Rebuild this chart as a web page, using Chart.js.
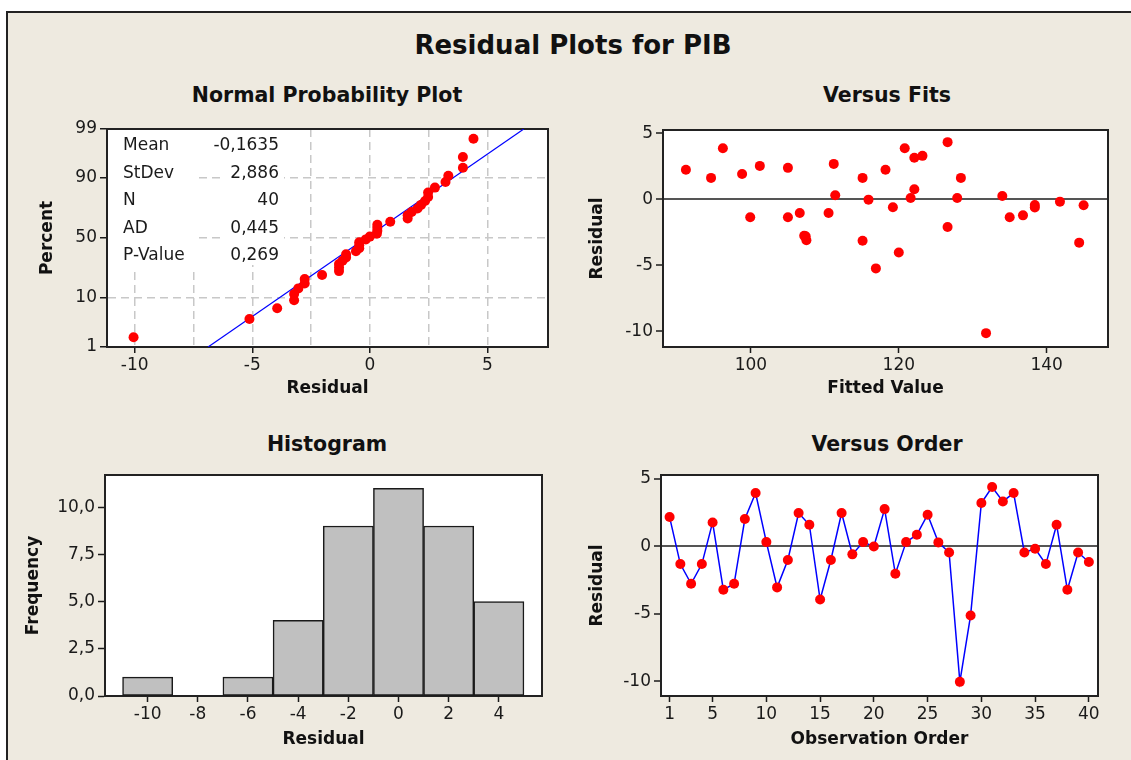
<!DOCTYPE html>
<html>
<head>
<meta charset="utf-8">
<script src="https://cdn.jsdelivr.net/npm/chart.js@4.4.1/dist/chart.umd.min.js"></script>
<style>
  body { margin:0; background:#fff; width:1131px; height:760px; overflow:hidden; position:relative;
         font-family:"DejaVu Sans", sans-serif; }
  #frame { position:absolute; left:6px; top:11px; width:1140px; height:760px; background:#eeeae0;
           border-left:2px solid #222; border-top:2px solid #222; }
  .ttl { position:absolute; transform:translate(-50%,-50%); font-weight:bold; color:#111; white-space:nowrap; }
  .main { font-size:26px; }
  .sub { font-size:20.5px; }
  canvas { position:absolute; }
</style>
</head>
<body>
<div id="frame"></div>
<div class="ttl main" style="left:573px;top:45px">Residual Plots for PIB</div>
<div class="ttl sub" style="left:327px;top:95px">Normal Probability Plot</div>
<div class="ttl sub" style="left:887px;top:95px">Versus Fits</div>
<div class="ttl sub" style="left:327px;top:444px">Histogram</div>
<div class="ttl sub" style="left:887px;top:444px">Versus Order</div>
<canvas id="npp" width="550" height="300" style="left:20px;top:110px"></canvas>
<canvas id="fits" width="550" height="300" style="left:575px;top:110px"></canvas>
<canvas id="hist" width="550" height="300" style="left:20px;top:455px"></canvas>
<canvas id="order" width="550" height="300" style="left:575px;top:455px"></canvas>
<script>
// residuals in observation order
const orderNo = [1,2,3,4,5,6,7,8,9,10,11,12,13,14,15,16,17,18,19,20,
                 21,22,23,24,25,26,27,28,29,30,31,32,33,34,35,36,37,38,39,40];
const residOrder = [2.18,-1.31,-2.77,-1.31,1.78,-3.22,-2.77,2.03,3.96,0.32,
                    -3.04,-1.01,2.48,1.61,-3.94,-1.01,2.48,-0.59,0.32,0.0,
                    2.77,-2.03,0.32,0.87,2.35,0.30,-0.45,-10.05,-5.12,3.22,
                    4.41,3.34,3.96,-0.45,-0.17,-1.31,1.61,-3.22,-0.45,-1.16];

// normal probability plot: sorted residuals and plotting percent
const nppResid = [-10.05,-5.12,-3.94,-3.22,-3.22,-3.04,-2.77,-2.77,-2.03,-1.31,
                  -1.31,-1.31,-1.16,-1.01,-1.01,-0.59,-0.45,-0.45,-0.45,-0.17,
                  0.0,0.30,0.32,0.32,0.32,0.87,1.61,1.61,1.78,2.03,
                  2.18,2.35,2.48,2.48,2.77,3.22,3.34,3.96,3.96,4.41];
const nppPct = [1.7,4.2,6.7,9.2,11.6,14.1,16.6,19.1,21.5,24.0,
                26.5,29.0,31.4,33.9,36.4,38.9,41.3,43.8,46.3,48.8,
                51.2,53.7,56.2,58.7,61.1,63.6,66.1,68.6,71.0,73.5,
                76.0,78.5,80.9,83.4,85.9,88.4,90.8,93.3,95.8,98.3];
const fitLineX = [-6.88, 6.55];
const fitLinePct = [1, 99];
const statLabels = ['Mean','StDev','N','AD','P-Value'];
const statValues = ['-0,1635','2,886','40','0,445','0,269'];

// versus fits
const fitted = [91.2,94.6,96.2,98.8,99.9,101.2,105.0,105.0,106.6,107.2,
                107.4,107.5,110.5,111.2,111.4,115.1,115.1,115.9,116.9,118.2,
                119.2,120.0,120.8,121.6,122.1,122.1,123.2,126.6,126.6,127.9,
                128.4,131.8,134.0,135.0,136.8,138.4,138.4,141.8,144.4,145.0];
const residFit = [2.23,1.62,3.87,1.92,-1.37,2.53,2.38,-1.37,-1.04,-2.77,
                  -2.81,-3.11,-1.04,2.68,0.30,1.62,-3.14,-0.03,-5.24,2.23,
                  -0.61,-4.03,3.87,0.10,0.76,3.14,3.29,4.33,-2.10,0.10,
                  1.62,-10.15,0.25,-1.37,-1.22,-0.43,-0.63,-0.18,-3.29,-0.46];

// histogram
const binMid = [-10,-8,-6,-4,-2,0,2,4];
const binCount = [1,0,1,4,9,11,9,5];

// tick values
const nppXTicks = [-10,-7.5,-5,-2.5,0,2.5,5];
const nppYTicks = [1,10,50,90,99];
const fitXTicks = [100,120,140];
const residTicks = [-10,-5,0,5];
const histXTicks = [-10,-8,-6,-4,-2,0,2,4];
const histYTicks = [0,2.5,5,7.5,10];
const orderXTicks = [1,5,10,15,20,25,30,35,40];

const INK = '#1a1a1a';
Chart.defaults.font.family = '"DejaVu Sans", sans-serif';
Chart.defaults.font.size = 17;
Chart.defaults.color = INK;

// inverse normal cdf (Acklam)
function qnorm(p){
  const a=[-39.69683028665376,220.9460984245205,-275.9285104469687,138.3577518672690,-30.66479806614716,2.506628277459239];
  const b=[-54.47609879822406,161.5858368580409,-155.6989798598866,66.80131188771972,-13.28068155288572];
  const c=[-0.007784894002430293,-0.3223964580411365,-2.400758277161838,-2.549732539343734,4.374664141464968,2.938163982698783];
  const d=[0.007784695709041462,0.3224671290700398,2.445134137142996,3.754408661907416];
  const pl=0.02425;
  if(p<pl){const q=Math.sqrt(-2*Math.log(p));
    return (((((c[0]*q+c[1])*q+c[2])*q+c[3])*q+c[4])*q+c[5])/((((d[0]*q+d[1])*q+d[2])*q+d[3])*q+1);}
  if(p>1-pl){const q=Math.sqrt(-2*Math.log(1-p));
    return -(((((c[0]*q+c[1])*q+c[2])*q+c[3])*q+c[4])*q+c[5])/((((d[0]*q+d[1])*q+d[2])*q+d[3])*q+1);}
  const q=p-0.5,r=q*q;
  return (((((a[0]*r+a[1])*r+a[2])*r+a[3])*r+a[4])*r+a[5])*q/(((((b[0]*r+b[1])*r+b[2])*r+b[3])*r+b[4])*r+1);
}

// probability (percent) axis
class ProbitScale extends Chart.LinearScale {
  getPixelForValue(v){
    const lo=qnorm(this.min/100), hi=qnorm(this.max/100);
    return this.getPixelForDecimal((qnorm(v/100)-lo)/(hi-lo));
  }
  getValueForPixel(px){
    const lo=qnorm(this.min/100), hi=qnorm(this.max/100);
    const z=lo+this.getDecimalForPixel(px)*(hi-lo);
    let a=0.0001,b=0.9999;
    for(let i=0;i<40;i++){const m=(a+b)/2; if(qnorm(m)<z) a=m; else b=m;}
    return a*100;
  }
}
ProbitScale.id='probit';
Chart.register(ProbitScale);

const panelBg = {
  id:'panelBg',
  beforeDraw(chart){
    const {ctx, chartArea:a} = chart;
    ctx.save(); ctx.fillStyle='#fff';
    ctx.fillRect(a.left,a.top,a.right-a.left,a.bottom-a.top);
    ctx.restore();
  },
  beforeDatasetsDraw(chart){
    const {ctx, chartArea:a} = chart;
    ctx.save(); ctx.strokeStyle='#222'; ctx.lineWidth=2;
    ctx.strokeRect(a.left,a.top,a.right-a.left,a.bottom-a.top);
    ctx.restore();
  }
};

const statsBox = {
  id:'statsBox',
  beforeDatasetsDraw(chart){
    const {ctx, chartArea:a} = chart;
    ctx.save();
    ctx.fillStyle='#fff';
    ctx.fillRect(a.left+1,a.top+1,88,137);
    ctx.fillRect(a.left+118,a.top+1,59,135);
    ctx.font='17px "DejaVu Sans", sans-serif';
    ctx.fillStyle=INK; ctx.textBaseline='middle';
    statLabels.forEach((s,i)=>{
      const y=a.top+17+i*27.5;
      ctx.textAlign='left'; ctx.fillText(s,a.left+16,y);
      ctx.textAlign='right'; ctx.fillText(statValues[i],a.left+172,y);
    });
    ctx.restore();
  }
};

function fixTicks(vals){ return s=>{ s.ticks = vals.map(v=>({value:v})); }; }
function axisTitle(text, pad){
  return { display:true, text, font:{size:17, weight:'bold', lineHeight:1.2}, color:'#111', padding:pad };
}
function xAxis(o){
  return Object.assign({
    type:'linear',
    border:{color:'#222', width:2},
    grid:{color:'transparent', tickColor:INK, tickLength:6, tickWidth:1.5, offset:false},
    ticks:{padding:2, autoSkip:false, maxRotation:0},
    afterFit:s=>{ s.height=o.h; }
  }, o.extra||{}, {
    min:o.min, max:o.max,
    afterBuildTicks:fixTicks(o.ticks),
    title:axisTitle(o.title,{top:0,bottom:o.tpad})
  });
}
function yAxis(o){
  return Object.assign({
    type:'linear',
    border:{color:'#222', width:2},
    grid:{color:'transparent', tickColor:INK, tickLength:7, tickWidth:1.5},
    ticks:{padding:3, autoSkip:false},
    afterFit:s=>{ s.width=o.w; }
  }, o.extra||{}, {
    min:o.min, max:o.max,
    afterBuildTicks:fixTicks(o.ticks),
    title:axisTitle(o.title,{top:o.tpad,bottom:0})
  });
}
const zeroLine = {
  color:c=>c.tick && c.tick.value===0 ? '#555' : 'transparent',
  lineWidth:2, tickColor:INK, tickLength:7, tickWidth:1.5
};
const base = {
  responsive:false, animation:false, events:[],
  plugins:{legend:{display:false}, tooltip:{enabled:false}}
};

// normal probability plot
new Chart(document.getElementById('npp'), {
  type:'scatter',
  data:{ datasets:[
    { data:nppResid.map((r,i)=>({x:r, y:nppPct[i]})), pointRadius:5,
      pointBackgroundColor:'#ff0000', pointBorderWidth:0, showLine:false },
    { data:fitLineX.map((x,i)=>({x, y:fitLinePct[i]})), showLine:true,
      borderColor:'#0000ff', borderWidth:1.2, pointRadius:0, order:1 }
  ]},
  options:Object.assign({}, base, {
    layout:{padding:{top:19, right:22, left:0, bottom:0}},
    scales:{
      x:xAxis({min:-11.18, max:7.58, ticks:nppXTicks, h:63, title:'Residual', tpad:10.8,
        extra:{
          grid:{color:'#c8c8c8', lineWidth:1.5,
                tickColor:c=>c.tick && c.tick.value%5===0 ? INK : 'transparent',
                tickLength:6, tickWidth:1.5},
          border:{color:'#222', width:2, dash:[8,5]},
          ticks:{padding:2, autoSkip:false, maxRotation:0,
                 callback:v=>v%5===0 ? String(v) : ''}
        }}),
      y:yAxis({min:1, max:99, ticks:nppYTicks, w:87, title:'Percent', tpad:17.8,
        extra:{
          type:'probit',
          grid:{color:'#c8c8c8', lineWidth:1.5, tickColor:INK, tickLength:7, tickWidth:1.5},
          border:{color:'#222', width:2, dash:[8,5]},
          ticks:{padding:3, autoSkip:false, callback:v=>String(v)}
        }})
    }
  }),
  plugins:[panelBg, statsBox]
});

// versus fits
new Chart(document.getElementById('fits'), {
  type:'scatter',
  data:{ datasets:[{ data:fitted.map((f,i)=>({x:f, y:residFit[i]})), pointRadius:5,
    pointBackgroundColor:'#ff0000', pointBorderWidth:0 }]},
  options:Object.assign({}, base, {
    layout:{padding:{top:20, right:17, left:0, bottom:0}},
    scales:{
      x:xAxis({min:88.1, max:148.3, ticks:fitXTicks, h:63, title:'Fitted Value', tpad:10.8}),
      y:yAxis({min:-11.2, max:5.25, ticks:residTicks, w:88, title:'Residual', tpad:12.8,
        extra:{grid:zeroLine}})
    }
  }),
  plugins:[panelBg]
});

// histogram
new Chart(document.getElementById('hist'), {
  type:'bar',
  data:{ datasets:[{ data:binMid.map((m,i)=>({x:m, y:binCount[i]})),
    backgroundColor:'#c0c0c0', borderColor:'#1a1a1a', borderWidth:1.5, borderSkipped:false,
    barPercentage:1, categoryPercentage:1 }]},
  options:Object.assign({}, base, {
    layout:{padding:{top:20, right:28, left:0, bottom:0}},
    scales:{
      x:xAxis({min:-11.7, max:5.72, ticks:histXTicks, h:59, title:'Residual', tpad:4.8,
        extra:{offset:false}}),
      y:yAxis({min:0, max:11.7, ticks:histYTicks, w:85, title:'Frequency', tpad:3.8,
        extra:{ticks:{padding:3, autoSkip:false, callback:v=>v.toFixed(1).replace('.',',')}}})
    }
  }),
  plugins:[panelBg]
});

// versus order
new Chart(document.getElementById('order'), {
  type:'line',
  data:{ datasets:[{ data:orderNo.map((n,i)=>({x:n, y:residOrder[i]})),
    borderColor:'#0000ff', borderWidth:1.5, pointRadius:5,
    pointBackgroundColor:'#ff0000', pointBorderWidth:0, tension:0 }]},
  options:Object.assign({}, base, {
    layout:{padding:{top:20, right:27, left:0, bottom:0}},
    scales:{
      x:xAxis({min:0.2, max:40.85, ticks:orderXTicks, h:59, title:'Observation Order', tpad:4.8}),
      y:yAxis({min:-11.1, max:5.3, ticks:residTicks, w:86, title:'Residual', tpad:12.8,
        extra:{grid:zeroLine}})
    }
  }),
  plugins:[panelBg]
});
</script>
</body>
</html>
